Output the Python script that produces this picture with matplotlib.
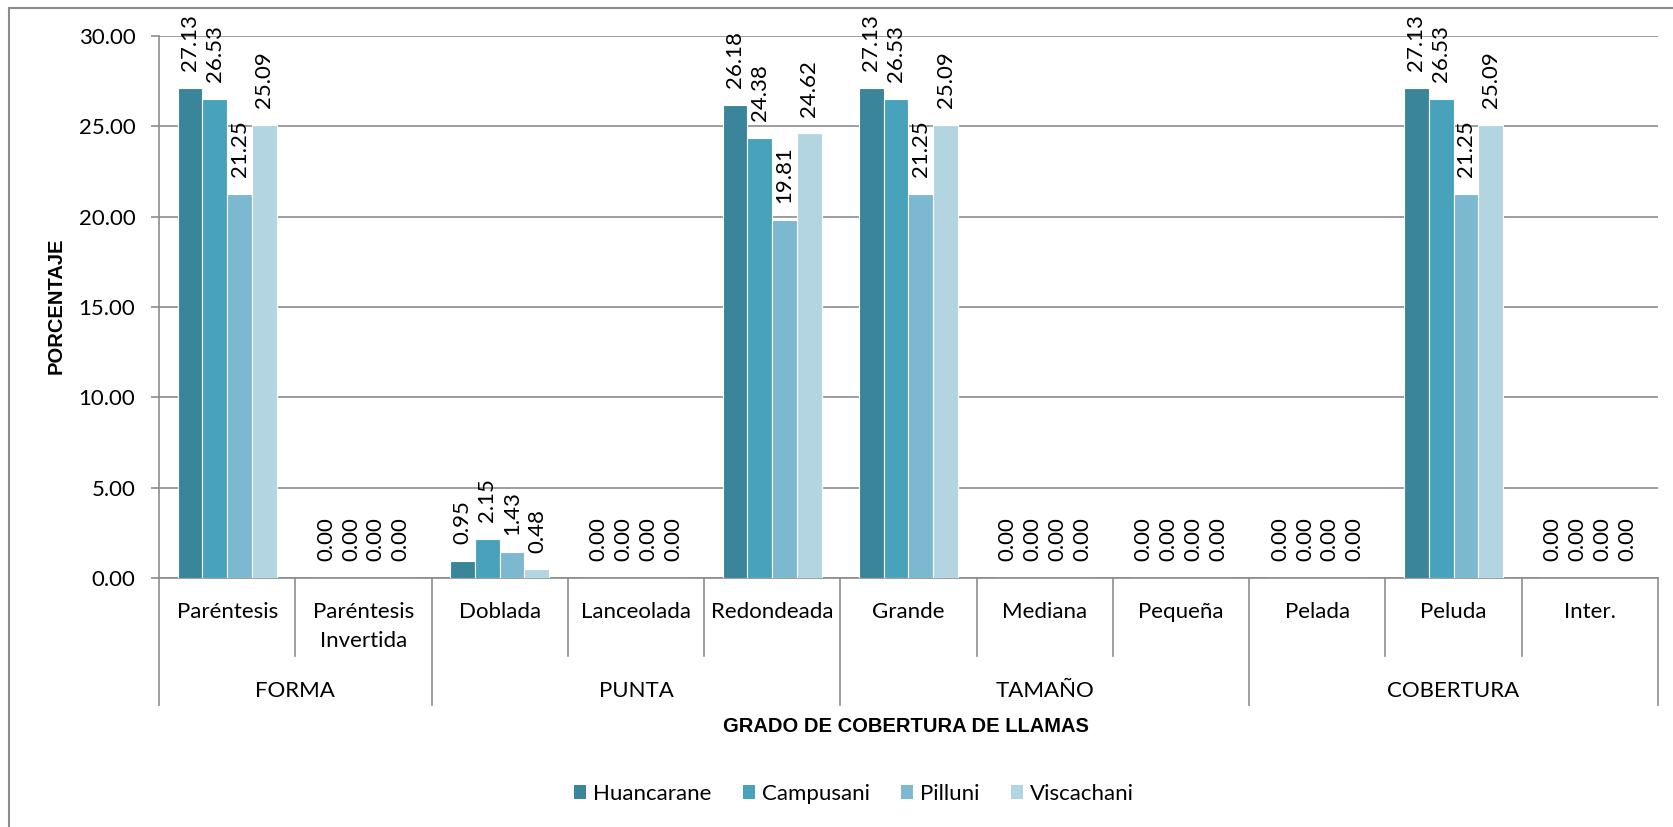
import matplotlib
matplotlib.use("Agg")
import matplotlib.pyplot as plt
from matplotlib.lines import Line2D
from matplotlib.patches import Patch

categories = ["Paréntesis", "Paréntesis\nInvertida", "Doblada", "Lanceolada", "Redondeada",
              "Grande", "Mediana", "Pequeña", "Pelada", "Peluda", "Inter."]
groups = ["FORMA", "PUNTA", "TAMAÑO", "COBERTURA"]
group_sizes = [2, 3, 3, 3]
series_names = ["Huancarane", "Campusani", "Pilluni", "Viscachani"]
huancarane = [27.13, 0.00, 0.95, 0.00, 26.18, 27.13, 0.00, 0.00, 0.00, 27.13, 0.00]
campusani = [26.53, 0.00, 2.15, 0.00, 24.38, 26.53, 0.00, 0.00, 0.00, 26.53, 0.00]
pilluni = [21.25, 0.00, 1.43, 0.00, 19.81, 21.25, 0.00, 0.00, 0.00, 21.25, 0.00]
viscachani = [25.09, 0.00, 0.48, 0.00, 24.62, 25.09, 0.00, 0.00, 0.00, 25.09, 0.00]
yticks = [0, 5, 10, 15, 20, 25, 30]

series = [huancarane, campusani, pilluni, viscachani]
colors = ["#3A8599", "#49A2BB", "#7CB9D0", "#B3D5E1"]
grey = "#8C8C8C"
FONT = "Lato"
FS = 16

W, H = 1674, 827
fig = plt.figure(figsize=(W / 100, H / 100), dpi=100)

def fx(px):
    return px / W

def fy(py):
    return 1 - py / H

ax_l, ax_r, ax_t, ax_b = 159, 1658, 36, 578
ax = fig.add_axes([fx(ax_l), fy(ax_b), (ax_r - ax_l) / W, (ax_b - ax_t) / H])

n = len(categories)
bw = 0.182
for j, (vals, c, name) in enumerate(zip(series, colors, series_names)):
    xs = [i + (j - 1.5) * bw for i in range(n)]
    ax.bar(xs, vals, width=bw, color=c, edgecolor="white", linewidth=0.8, zorder=3, label=name)
    for x, v in zip(xs, vals):
        ax.annotate(f"{v:.2f}", (x, v), xytext=(0, 12), textcoords="offset points",
                    rotation=90, ha="center", va="bottom", fontsize=FS, family=FONT,
                    annotation_clip=False, zorder=4)

ax.set_xlim(-0.5, n - 0.5)
ax.set_ylim(0, 30)
ax.set_yticks(yticks)
ax.set_yticklabels([f"{t:.2f}" for t in yticks], fontsize=FS, family=FONT)
ax.tick_params(axis="y", length=6, color=grey, width=1.2, pad=11)
ax.set_xticks([])
ax.grid(axis="y", color=grey, linewidth=1.2, zorder=0)
ax.set_axisbelow(True)
for s in ["top", "right"]:
    ax.spines[s].set_visible(False)
for s in ["left", "bottom"]:
    ax.spines[s].set_color(grey)
    ax.spines[s].set_linewidth(1.2)

# hierarchical x axis
catw = (ax_r - ax_l) / n
bounds = [0]
for g in group_sizes:
    bounds.append(bounds[-1] + g)
for k in range(n + 1):
    xp = ax_l + k * catw
    yb = 705 if k in bounds else 656
    fig.add_artist(Line2D([fx(xp), fx(xp)], [fy(ax_b), fy(yb)], color=grey, lw=1.2))
for i, cat in enumerate(categories):
    xc = ax_l + (i + 0.5) * catw
    for li, line in enumerate(cat.split("\n")):
        fig.text(fx(xc), fy(618 + 29 * li), line, ha="center", va="baseline",
                 fontsize=FS, family=FONT)
for gi, g in enumerate(groups):
    xc = ax_l + (bounds[gi] + bounds[gi + 1]) / 2 * catw
    fig.text(fx(xc), fy(697), g, ha="center", va="baseline", fontsize=FS, family=FONT)

fig.text(fx(906), fy(726), "GRADO DE COBERTURA DE LLAMAS", ha="center", va="center",
         fontsize=14.5, fontweight="bold", family="Liberation Sans")
fig.text(fx(56), fy(306), "PORCENTAJE", ha="center", va="center", rotation=90,
         fontsize=14.5, fontweight="bold", family="Liberation Sans")

handles = [Patch(facecolor=c, edgecolor="none", label=nm) for c, nm in zip(colors, series_names)]
fig.legend(handles=handles, loc="center", bbox_to_anchor=(fx(854), fy(794)), ncol=4,
           frameon=False, prop={"family": FONT, "size": FS}, handlelength=0.55,
           handleheight=0.55, handletextpad=0.32, columnspacing=1.4, borderpad=0)

# outer chart border
fig.add_artist(Line2D([fx(9), fx(9)], [fy(8), 0], color=grey, lw=1.5))
fig.add_artist(Line2D([fx(9), 1], [fy(8), fy(8)], color=grey, lw=1.5))

fig.savefig("out.png", dpi=100)
